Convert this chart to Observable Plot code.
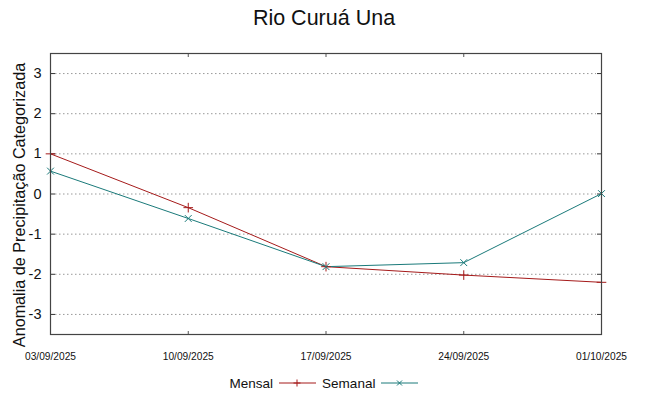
<!DOCTYPE html>
<html>
<head>
<meta charset="utf-8">
<script src="https://cdn.jsdelivr.net/npm/d3@7"></script>
<script src="https://cdn.jsdelivr.net/npm/@observablehq/plot@0.6"></script>
<style>
  html, body { margin: 0; padding: 0; background: #fff; }
  body { width: 648px; height: 396px; overflow: hidden; font-family: "Liberation Sans", Arial, sans-serif; }
  #title { height: 36px; line-height: 36px; text-align: center; font-size: 21.5px; color: #111; }
  #legend { display: flex; justify-content: center; align-items: center; height: 26px; font-size: 13.5px; color: #111; }
  #legend .item { display: flex; align-items: center; margin: 0 3px; }
  #legend svg { margin-left: 6px; }
</style>
</head>
<body>
<div id="title">Rio Curuá Una</div>
<div id="chart"></div>
<div id="legend"></div>
<script>
const dates = ["2025-09-03", "2025-09-10", "2025-09-17", "2025-09-24", "2025-10-01"];
const mensal = [1.0, -0.34, -1.81, -2.02, -2.2];
const semanal = [0.57, -0.61, -1.81, -1.71, 0.01];
const yTicks = [-3, -2, -1, 0, 1, 2, 3];
const yLabel = "Anomalia de Precipitação Categorizada";
const seriesNames = ["Mensal", "Semanal"];
const colors = ["#a51a1a", "#1a7a7a"];

const parse = d3.utcParse("%Y-%m-%d");
const xDates = dates.map(parse);
const rows = [];
dates.forEach((d, i) => {
  rows.push({date: xDates[i], value: mensal[i], serie: seriesNames[0]});
  rows.push({date: xDates[i], value: semanal[i], serie: seriesNames[1]});
});
const fmt = d3.utcFormat("%d/%m/%Y");
const font = "'Liberation Sans', Arial, sans-serif";

const chart = Plot.plot({
  width: 648,
  height: 334,
  marginTop: 17,
  marginBottom: 36,
  marginLeft: 50,
  marginRight: 47,
  style: {fontFamily: font, color: "#111", background: "#fff"},
  x: {type: "utc", domain: [xDates[0], xDates[xDates.length - 1]]},
  y: {domain: [-3.5, 3.5]},
  color: {domain: seriesNames, range: colors},
  marks: [
    Plot.gridY(yTicks, {stroke: "#999", strokeOpacity: 1, strokeDasharray: "1.5,2.5", insetLeft: 5, insetRight: 5}),
    Plot.axisY(yTicks, {anchor: "left", tickSize: -5, tickPadding: 14, fontSize: 14.5, tickFormat: d => String(d), label: null, stroke: "#333"}),
    Plot.axisY(yTicks, {anchor: "right", tickSize: -5, tickFormat: () => "", label: null, stroke: "#333"}),
    Plot.axisX(xDates, {anchor: "bottom", tickSize: -3, tickPadding: 21, fontSize: 10.2, tickFormat: fmt, label: null, stroke: "#555"}),
    Plot.axisX(xDates, {anchor: "top", tickSize: -3, tickFormat: () => "", label: null, stroke: "#555"}),
    Plot.text([yLabel], {text: d => d, frameAnchor: "left", textAnchor: "middle", rotate: -90, dx: -31, dy: 11, fontSize: 16.2, fill: "#111"}),
    Plot.line(rows, {x: "date", y: "value", z: "serie", stroke: "serie", strokeWidth: 1}),
    Plot.dot(rows, {x: "date", y: "value", stroke: "serie", symbol: d => d.serie === "Mensal" ? "plus" : "times", r: 3.2, strokeWidth: 1}),
    Plot.frame({stroke: "#444", strokeWidth: 1.2})
  ]
});
document.getElementById("chart").appendChild(chart);

const legend = document.getElementById("legend");
seriesNames.forEach((name, i) => {
  const item = document.createElement("div");
  item.className = "item";
  const span = document.createElement("span");
  span.textContent = name;
  item.appendChild(span);
  const sym = i === 0
    ? `<path d="M18,1.5V8.5M14.5,5H21.5" stroke="${colors[i]}" stroke-width="1"/>`
    : `<path d="M16,2.5L21,7.5M21,2.5L16,7.5" stroke="${colors[i]}" stroke-width="1"/>`;
  item.insertAdjacentHTML("beforeend",
    `<svg width="37" height="10"><line x1="0" y1="5" x2="37" y2="5" stroke="${colors[i]}" stroke-width="1"/>${sym}</svg>`);
  legend.appendChild(item);
});
</script>
</body>
</html>
